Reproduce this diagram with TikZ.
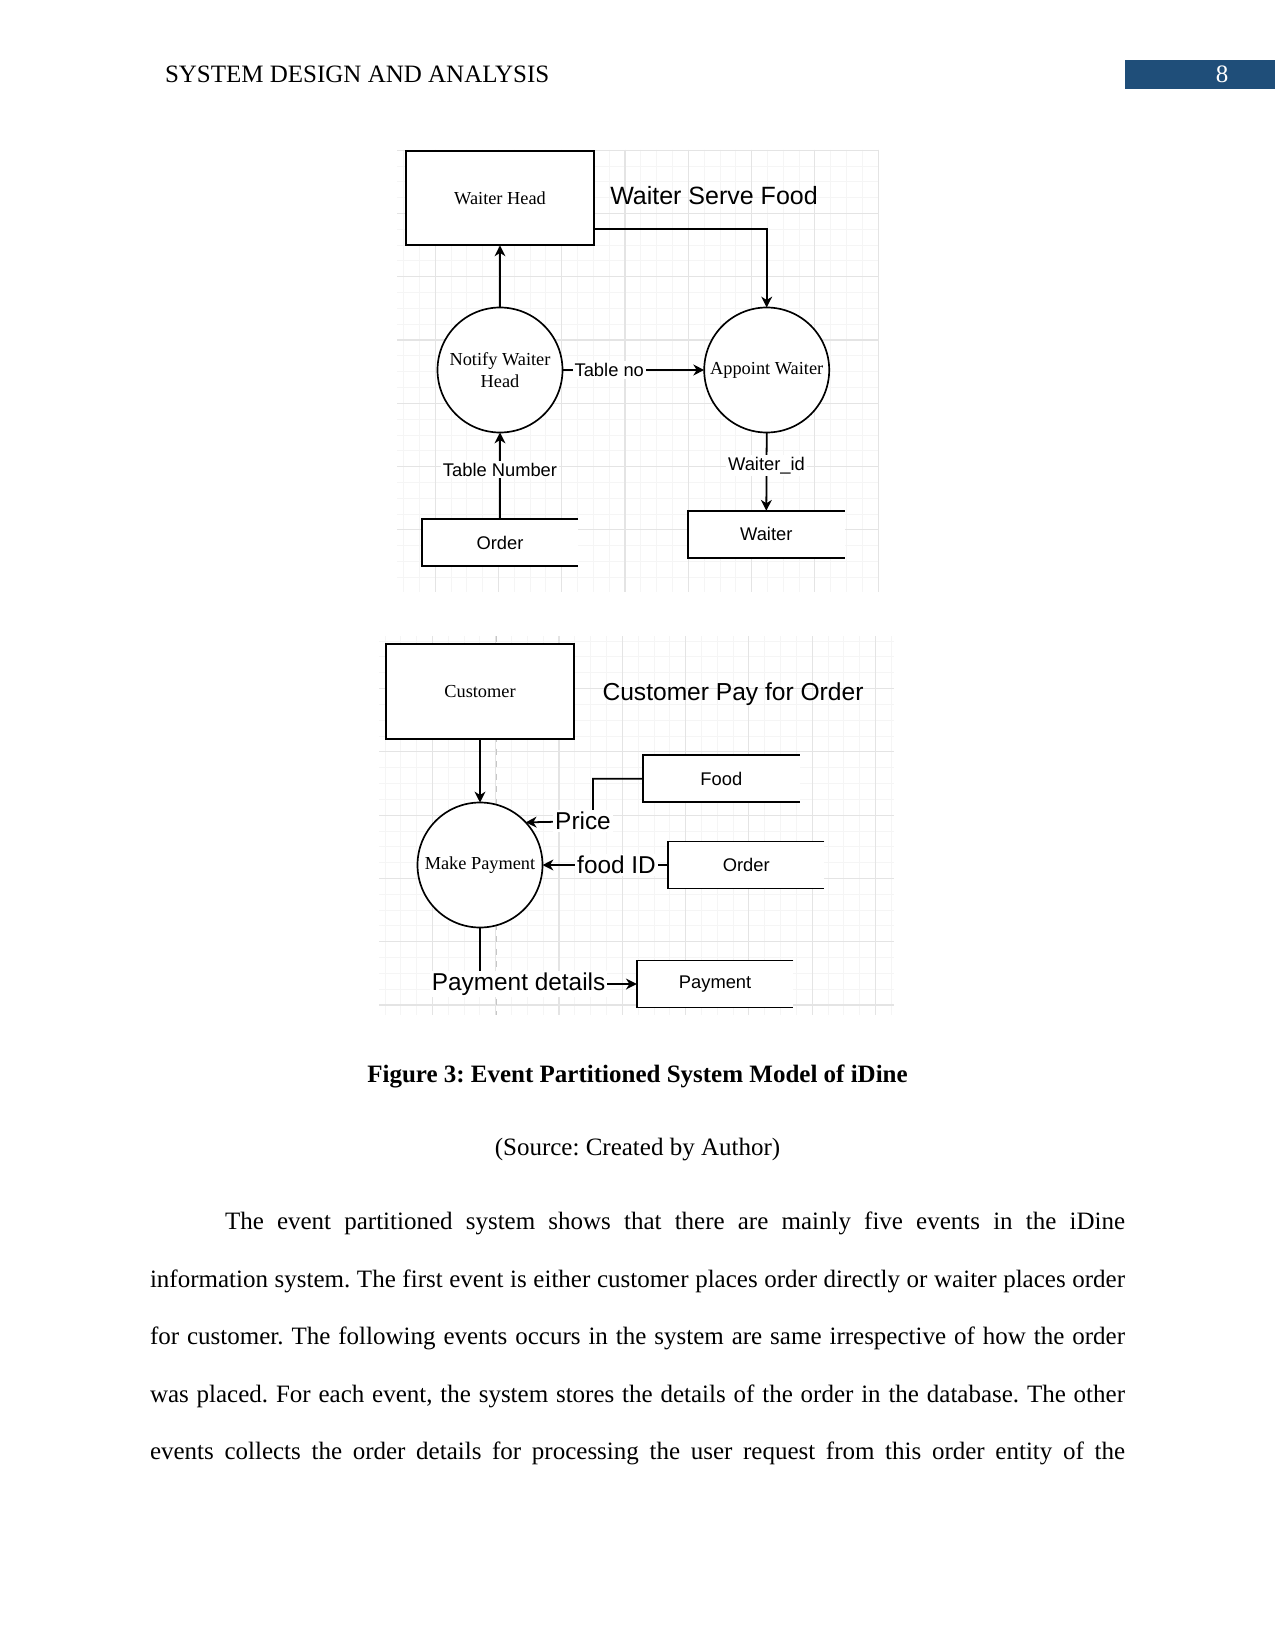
\documentclass[tikz,border=0pt]{standalone}
\usepackage{fontspec}
\setmainfont{Liberation Serif}
\newfontfamily\sansf{Liberation Sans}
\usetikzlibrary{arrows.meta}
\definecolor{hdrblue}{HTML}{1F4E79}
\definecolor{gridmaj}{HTML}{E4E4E4}
\definecolor{gridmin}{HTML}{F5F5F5}
\frenchspacing
\begin{document}
\begin{tikzpicture}[x=0.48pt,y=-0.48pt,
  every node/.style={inner sep=0pt, outer sep=0pt},
  ln/.style={line width=0.85pt, black},
  arr/.style={ln, -{Stealth[length=5.2pt,width=5.2pt,inset=1.6pt]}},
  entity/.style={draw, fill=white, line width=0.9pt, minimum width=90.3pt, minimum height=45.5pt, font=\fontsize{8.8}{10.4}\selectfont},
  proc/.style={draw, fill=white, circle, line width=0.8pt, minimum size=60pt, align=center, font=\fontsize{8.8}{10.4}\selectfont},
  store/.style={fill=white, minimum width=75.1pt, minimum height=22.6pt, font=\sansf\fontsize{8.8}{10.5}\selectfont},
  flowlbl/.style={fill=white, inner sep=1pt, font=\sansf\fontsize{8.8}{10.5}\selectfont},
  biglbl/.style={fill=white, inner sep=1pt, font=\sansf\fontsize{11.7}{14}\selectfont},
  titlelbl/.style={font=\sansf\fontsize{12}{14}\selectfont},
  body/.style={anchor=base west, font=\fontsize{12}{14}\selectfont},
  centered/.style={anchor=base, font=\fontsize{12}{14}\selectfont},
  gridline/.style={gridmaj, line width=0.5pt},
  gridfine/.style={gridmin, line width=0.4pt}
]
\fill[white] (0,0) rectangle (1275,1650);
\useasboundingbox (0,0) rectangle (1275,1650);

% ---------- header ----------
\node[body] (hdr) at (165,83) {SYSTEM DESIGN AND ANALYSIS};
\fill[hdrblue] (1124.8,60.5) rectangle (1275,88.8);
\node[centered, text=white] (pg) at (1222,82.5) {8};

% ---------- grid 1 ----------
\begin{scope}
\clip (397,150) rectangle (879,592);
\foreach \k in {-15,...,17} \draw[gridfine] (625+15.825*\k,150) -- (625+15.825*\k,592);
\foreach \k in {-9,...,20} \draw[gridfine] (397,276.7+15.825*\k) -- (879,276.7+15.825*\k);
\foreach \k in {-3,...,4} \draw[gridline] (625+63.3*\k,150) -- (625+63.3*\k,592);
\foreach \k in {-2,...,5} \draw[gridline] (397,276.7+63.3*\k) -- (879,276.7+63.3*\k);
\end{scope}

% ---------- grid 2 ----------
\begin{scope}
\clip (379,636) rectangle (894,1015);
\foreach \k in {-12,...,22} \draw[gridfine] (559+15.825*\k,636) -- (559+15.825*\k,1015);
\foreach \k in {-20,...,5} \draw[gridfine] (379,941.7+15.825*\k) -- (894,941.7+15.825*\k);
\foreach \k in {-2,...,5} \draw[gridline] (559+63.3*\k,636) -- (559+63.3*\k,1015);
\foreach \k in {-4,...,1} \draw[gridline] (379,941.7+63.3*\k) -- (894,941.7+63.3*\k);
\draw[gray!45, line width=0.5pt, dashed] (496.7,636) -- (496.7,1015);
\end{scope}

% ---------- Waiter Serve Food ----------
\node[entity] (wh) at (500,198) {Waiter Head};
\node[titlelbl] (t1) at (714,196) {Waiter Serve Food};
\node[proc] (nw) at (500,370) {Notify Waiter\\Head};
\node[proc] (ap) at (766.7,370) {Appoint Waiter};
\node[store] (ord) at (500,542.5) {Order};
\node[store] (wt) at (766.3,534.3) {Waiter};
\draw[ln] (ord.north east) -- (ord.north west) -- (ord.south west) -- (ord.south east);
\draw[ln] (wt.north east) -- (wt.north west) -- (wt.south west) -- (wt.south east);

\draw[arr] ([yshift=7.7pt]wh.south east) -| (ap.north);
\draw[arr] (nw.north) -- (wh.south);
\draw[arr] (nw.east) -- node[flowlbl, pos=0.33] (tno) {Table no} (ap.west);
\draw[arr] (ord.north) -- node[flowlbl, pos=0.57] (tnum) {Table Number} (nw.south);
\draw[arr] (ap.south) -- node[flowlbl, pos=0.42] (wid) {Waiter\_id} (wt.north);

% ---------- Customer Pay for Order ----------
\node[entity] (cu) at (480,691.2) {Customer};
\node[titlelbl] (t2) at (733,694.2) {\fontsize{11.8}{14}\selectfont Customer Pay for Order};
\node[proc] (mp) at (480,865) {Make Payment};
\node[store] (fd) at (721.3,778.7) {Food};
\node[store] (o2) at (746.2,865) {Order};
\node[store] (pay) at (715.1,984) {Payment};
\draw[ln] (fd.north east) -- (fd.north west) -- (fd.south west) -- (fd.south east);
\draw[ln] (o2.north east) -- (o2.north west) -- (o2.south west) -- (o2.south east);
\draw[ln] (pay.north east) -- (pay.north west) -- (pay.south west) -- (pay.south east);

\draw[arr] (cu.south) -- (mp.north);
\draw[arr] (fd.west) -| (593,821) -- (mp.43.5);
\node[biglbl] (pr) at (583,821) {Price};
\draw[arr] (o2.west) -- node[biglbl, pos=0.41] (fid) {food ID} (mp.east);
\draw[arr] (mp.south) |- node[biglbl, pos=0.623] (pdet) {Payment details} (pay.west);

% ---------- caption and body ----------
\node[centered, font=\bfseries\fontsize{12}{14}\selectfont] (cap) at (637.5,1082) {Figure 3: Event Partitioned System Model of iDine};
\node[centered] (src) at (637.5,1155) {(Source: Created by Author)};

\node[body] (p1) at (225,1229.5) {\makebox[432pt][s]{The event partitioned system shows that there are mainly five events in the iDine}};
\node[body] (p2) at (150,1287) {\makebox[468pt][s]{information system. The first event is either customer places order directly or waiter places order}};
\node[body] (p3) at (150,1344.5) {\makebox[468pt][s]{for customer. The following events occurs in the system are same irrespective of how the order}};
\node[body] (p4) at (150,1402) {\makebox[468pt][s]{was placed. For each event, the system stores the details of the order in the database. The other}};
\node[body] (p5) at (150,1459.5) {\makebox[468pt][s]{events collects the order details for processing the user request from this order entity of the}};
\end{tikzpicture}
\end{document}
